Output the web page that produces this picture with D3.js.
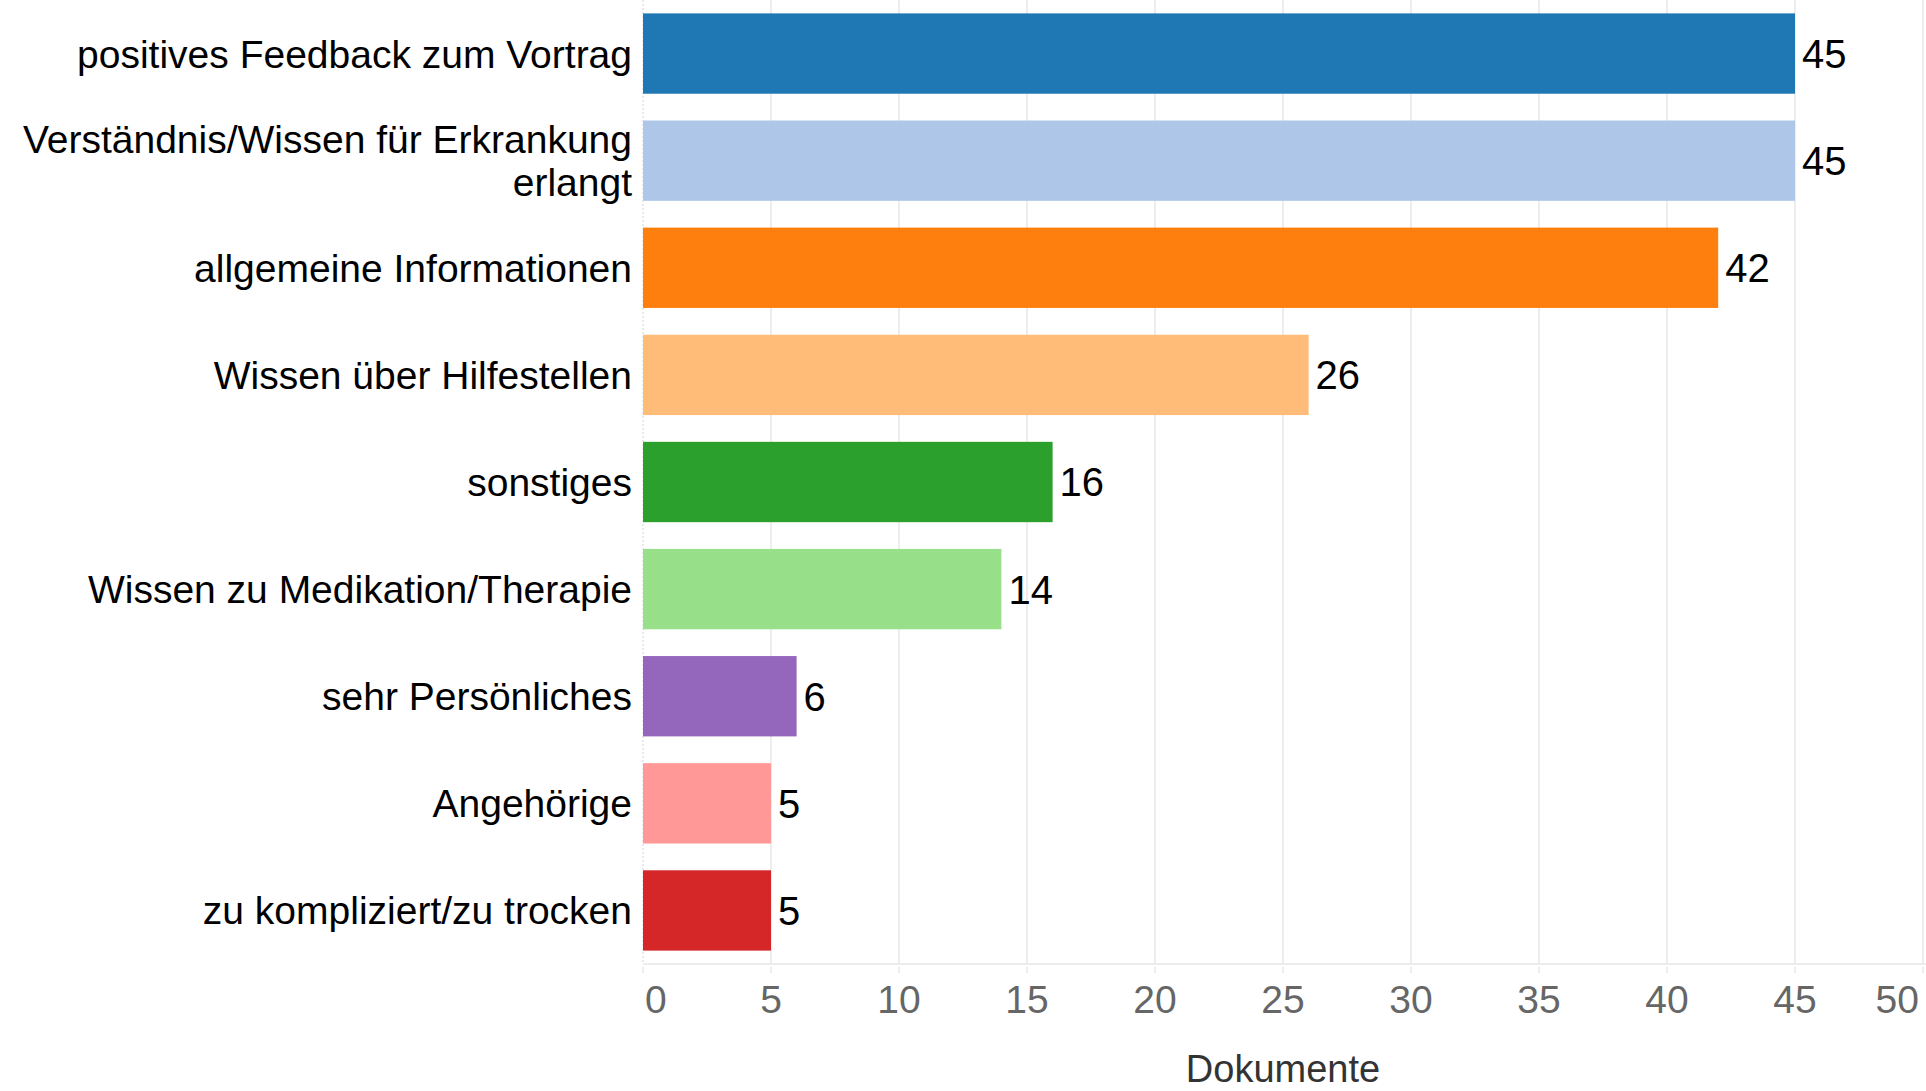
<!DOCTYPE html>
<html>
<head>
<meta charset="utf-8">
<script src="https://cdn.jsdelivr.net/npm/d3@7"></script>
<style>
  html, body { margin: 0; padding: 0; background: #fff; }
  svg { display: block; font-family: "Liberation Sans", Arial, sans-serif; }
</style>
</head>
<body>
<svg id="chart" width="1926" height="1091"></svg>
<script>
// Categories (top to bottom), counts and bar colours
const categories = [
  "positives Feedback zum Vortrag",
  "Verständnis/Wissen für Erkrankung erlangt",
  "allgemeine Informationen",
  "Wissen über Hilfestellen",
  "sonstiges",
  "Wissen zu Medikation/Therapie",
  "sehr Persönliches",
  "Angehörige",
  "zu kompliziert/zu trocken"
];
const values = [45, 45, 42, 26, 16, 14, 6, 5, 5];
const colors = ["#1f77b4", "#aec7e8", "#ff7f0e", "#ffbb78", "#2ca02c",
                "#98df8a", "#9467bd", "#ff9896", "#d62728"];
// Wrapped label lines for long category names
const labelLines = {
  "Verständnis/Wissen für Erkrankung erlangt": ["Verständnis/Wissen für Erkrankung", "erlangt"]
};
const xTicks = [0, 5, 10, 15, 20, 25, 30, 35, 40, 45, 50];
const xTitle = "Dokumente";

const W = 1926, H = 1091;
const plot = { left: 643, right: 1923, top: 0, bottom: 964 };

const svg = d3.select("#chart");

const x = d3.scaleLinear().domain([0, 50]).range([plot.left, plot.right]);
const y = d3.scaleBand().domain(categories)
  .range([plot.top, plot.bottom])
  .paddingInner(0.25).paddingOuter(0.125);

const data = categories.map((c, i) => ({ cat: c, value: values[i], color: colors[i] }));

// Vertical grid lines
svg.append("g").selectAll("line").data(xTicks.filter(t => t > 0)).join("line")
  .attr("x1", d => x(d)).attr("x2", d => x(d))
  .attr("y1", plot.top).attr("y2", plot.bottom - 1)
  .attr("stroke", "#ededed").attr("stroke-width", 2);

// Left edge (dotted)
svg.append("line")
  .attr("x1", x(0)).attr("x2", x(0))
  .attr("y1", plot.top).attr("y2", plot.bottom)
  .attr("stroke", "#e2e2e2").attr("stroke-width", 1.5)
  .attr("stroke-dasharray", "2,2");

// Bottom axis line
svg.append("line")
  .attr("x1", x(0)).attr("x2", W)
  .attr("y1", plot.bottom).attr("y2", plot.bottom)
  .attr("stroke", "#ededed").attr("stroke-width", 2);

// Bars
svg.append("g").selectAll("rect").data(data).join("rect")
  .attr("x", x(0))
  .attr("y", d => y(d.cat))
  .attr("width", d => x(d.value) - x(0))
  .attr("height", y.bandwidth())
  .attr("fill", d => d.color);

// Value labels
svg.append("g").selectAll("text").data(data).join("text")
  .attr("x", d => x(d.value) + 7)
  .attr("y", d => y(d.cat) + y.bandwidth() / 2)
  .attr("dy", "0.36em")
  .attr("font-size", 40)
  .attr("fill", "#000")
  .text(d => d.value);

// Category labels
const catG = svg.append("g");
data.forEach(d => {
  const lines = labelLines[d.cat] || [d.cat];
  const lh = 43;
  const cy = y(d.cat) + y.bandwidth() / 2;
  const t = catG.append("text")
    .attr("text-anchor", "end")
    .attr("font-size", 39)
    .attr("fill", "#000");
  lines.forEach((ln, i) => {
    t.append("tspan")
      .attr("x", plot.left - 11)
      .attr("y", cy + (i - (lines.length - 1) / 2) * lh)
      .attr("dy", "0.36em")
      .text(ln);
  });
});

// X axis ticks and labels (end labels kept inside the panel)
const first = xTicks[0], last = xTicks[xTicks.length - 1];
const axG = svg.append("g");
axG.selectAll("line").data(xTicks).join("line")
  .attr("x1", d => x(d)).attr("x2", d => x(d))
  .attr("y1", plot.bottom + 3).attr("y2", plot.bottom + 9)
  .attr("stroke", "#ededed").attr("stroke-width", 2);
axG.selectAll("text").data(xTicks).join("text")
  .attr("x", d => d === last ? x(d) - 4 : d === first ? x(d) + 2 : x(d))
  .attr("y", 1013)
  .attr("text-anchor", d => d === last ? "end" : d === first ? "start" : "middle")
  .attr("font-size", 39)
  .attr("fill", "#666")
  .text(d => d);

// Axis title
svg.append("text")
  .attr("x", (plot.left + plot.right) / 2)
  .attr("y", 1082)
  .attr("text-anchor", "middle")
  .attr("font-size", 38)
  .attr("fill", "#333")
  .text(xTitle);
</script>
</body>
</html>
